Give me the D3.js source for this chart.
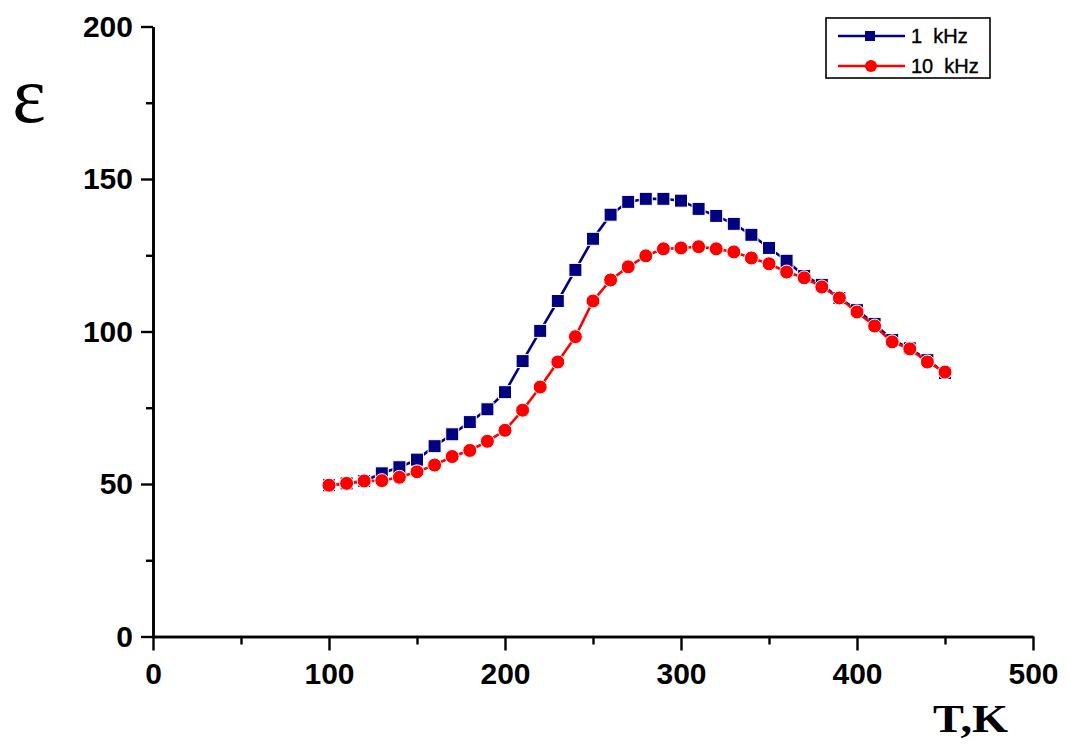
<!DOCTYPE html>
<html>
<head>
<meta charset="utf-8">
<script src="https://cdn.jsdelivr.net/npm/d3@7"></script>
<style>
  body { margin: 0; background: #fff; }
  .tick text { font-family: "Liberation Sans", Arial, sans-serif; font-weight: bold; font-size: 30px; fill: #000; }
  .legend-text { font-family: "Liberation Sans", Arial, sans-serif; font-size: 20px; }
</style>
</head>
<body>
<script>
const temps = [100, 110, 120, 130, 140, 150, 160, 170, 180, 190, 200, 210, 220, 230, 240, 250, 260, 270,
               280, 290, 300, 310, 320, 330, 340, 350, 360, 370, 380, 390, 400, 410, 420, 430, 440, 450];
const eps1k = [49.6, 50.2, 51, 53.5, 55.5, 58, 62.4, 66.3, 70.3, 74.5, 80.1, 90.3, 100.2, 110, 120.2, 130.4, 138.3, 142.5,
               143.5, 143.5, 142.9, 140.2, 137.9, 135.3, 131.7, 127.4, 123.2, 118.2, 115.3, 111, 107, 102.5, 97.2, 94.5, 90.6, 86.4];
const eps10k = [49.6, 50.2, 51, 51.1, 52.2, 54, 56.2, 59, 61, 64, 67.6, 74.2, 81.8, 90, 98.3, 110, 116.9, 121.2,
                124.8, 127.1, 127.4, 127.8, 127.1, 126.1, 124.1, 122.2, 119.5, 117.6, 114.6, 111, 106.4, 101.8, 96.6, 94.3, 90, 86.7];
const xTicks = [0, 100, 200, 300, 400, 500];
const xMinor = [50, 150, 250, 350, 450];
const yTicks = [0, 50, 100, 150, 200];
const yMinor = [25, 75, 125, 175];
const seriesNames = ['1 kHz', '10 kHz'];

const width = 1069, height = 749;
const margin = {left: 153, top: 26.5, right: 36, bottom: 112.5};

const svg = d3.select('body')
              .append('svg')
              .attr('width', width)
              .attr('height', height);

const xScale = d3.scaleLinear().domain([0, 500]).range([margin.left, width - margin.right]);
const yScale = d3.scaleLinear().domain([0, 200]).range([height - margin.bottom, margin.top]);

// minor ticks first, majors on top
svg.append('g')
  .attr('transform', 'translate(0,' + (height - margin.bottom) + ')')
  .call(d3.axisBottom(xScale).tickValues(xMinor).tickSize(8).tickSizeOuter(0).tickFormat(''));
svg.append('g')
  .attr('transform', 'translate(' + margin.left + ',0)')
  .call(d3.axisLeft(yScale).tickValues(yMinor).tickSize(7).tickSizeOuter(0).tickFormat(''));

svg.append('g')
  .attr('transform', 'translate(0,' + (height - margin.bottom) + ')')
  .call(d3.axisBottom(xScale).tickValues(xTicks).tickSize(14).tickPadding(12).tickSizeOuter(0));
svg.append('g')
  .attr('transform', 'translate(' + margin.left + ',0)')
  .call(d3.axisLeft(yScale).tickValues(yTicks).tickSize(12).tickPadding(8).tickSizeOuter(0));

svg.selectAll('.domain').attr('stroke', '#000').attr('stroke-width', 2.6);
svg.selectAll('.tick line').attr('stroke', '#000').attr('stroke-width', 2.4);

// axis titles
svg.append('text')
  .attr('x', 29)
  .attr('y', 122)
  .attr('text-anchor', 'middle')
  .style('font-family', '"Liberation Serif", "Times New Roman", serif')
  .style('font-size', '80px')
  .text('ε');

svg.append('text')
  .attr('x', 933)
  .attr('y', 732)
  .attr('textLength', 75)
  .attr('lengthAdjust', 'spacingAndGlyphs')
  .style('font-family', '"Liberation Serif", "Times New Roman", serif')
  .style('font-weight', 'bold')
  .style('font-size', '41px')
  .text('T,K');

const line = d3.line()
  .x((d) => xScale(d[0]))
  .y((d) => yScale(d[1]));

const pts1k = temps.map((t, i) => [t, eps1k[i]]);
const pts10k = temps.map((t, i) => [t, eps10k[i]]);

// 1 kHz
svg.append('path')
  .datum(pts1k)
  .attr('d', line)
  .attr('fill', 'none')
  .attr('stroke', '#000080')
  .attr('stroke-width', 2.6);
svg.selectAll('rect.sq')
  .data(pts1k)
  .enter()
  .append('rect')
  .attr('class', 'sq')
  .attr('x', (d) => xScale(d[0]) - 6.5)
  .attr('y', (d) => yScale(d[1]) - 6.5)
  .attr('width', 13)
  .attr('height', 13)
  .attr('fill', '#000080')
  .attr('stroke', '#fff')
  .attr('stroke-width', 1);

// 10 kHz
svg.append('path')
  .datum(pts10k)
  .attr('d', line)
  .attr('fill', 'none')
  .attr('stroke', '#ff0000')
  .attr('stroke-width', 2.6);
svg.selectAll('circle.dot')
  .data(pts10k)
  .enter()
  .append('circle')
  .attr('class', 'dot')
  .attr('cx', (d) => xScale(d[0]))
  .attr('cy', (d) => yScale(d[1]))
  .attr('r', 7)
  .attr('fill', '#ff0000')
  .attr('stroke', '#fff')
  .attr('stroke-width', 1);

// legend
const legend = svg.append('g').attr('class', 'legend');
legend.append('rect')
  .attr('x', 826)
  .attr('y', 18)
  .attr('width', 164)
  .attr('height', 60)
  .attr('fill', '#fff')
  .attr('stroke', '#000')
  .attr('stroke-width', 1.6);

const legendData = [['#000080', seriesNames[0], 36, 'square'], ['#ff0000', seriesNames[1], 66, 'circle']];

legend.selectAll('line')
  .data(legendData)
  .enter()
  .append('line')
  .attr('x1', 838)
  .attr('x2', 905)
  .attr('y1', (d) => d[2])
  .attr('y2', (d) => d[2])
  .attr('stroke', (d) => d[0])
  .attr('stroke-width', 2.6);

legendData.forEach((d) => {
  if (d[3] === 'square') {
    legend.append('rect')
      .attr('x', 870 - 5)
      .attr('y', d[2] - 5)
      .attr('width', 10)
      .attr('height', 10)
      .attr('fill', d[0]);
  } else {
    legend.append('circle')
      .attr('cx', 871)
      .attr('cy', d[2])
      .attr('r', 6)
      .attr('fill', d[0]);
  }
});

legend.selectAll('text')
  .data(legendData)
  .enter()
  .append('text')
  .attr('class', 'legend-text')
  .attr('x', 911)
  .attr('y', (d) => d[2] + 7)
  .attr('xml:space', 'preserve')
  .style('stroke', '#000')
  .style('stroke-width', 0.4)
  .text((d) => d[1].replace(' ', '  '));
</script>
</body>
</html>
